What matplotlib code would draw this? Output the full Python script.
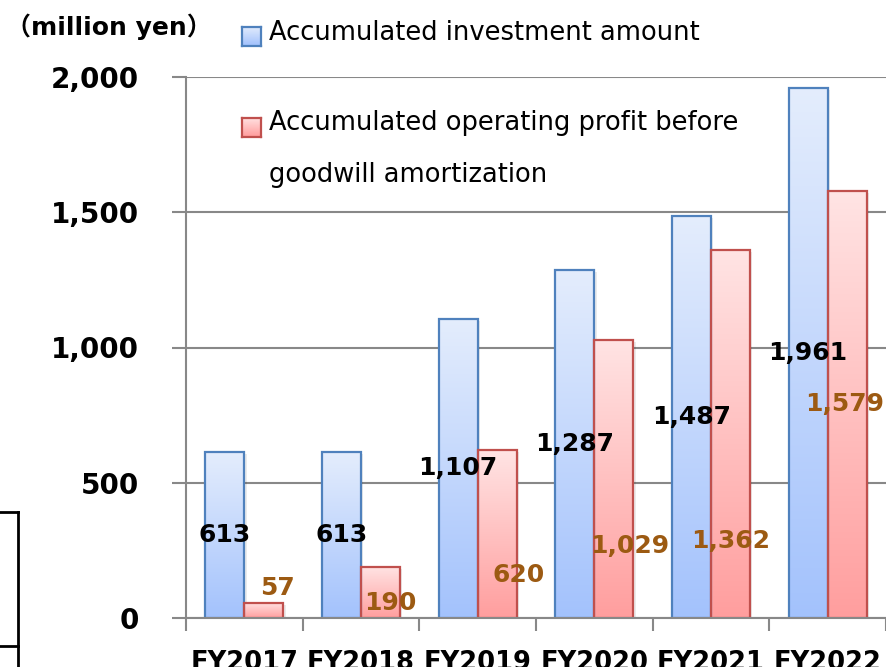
import matplotlib.pyplot as plt
import numpy as np
from matplotlib.colors import LinearSegmentedColormap
from matplotlib.patches import Rectangle
from matplotlib.lines import Line2D

years = ['FY2017', 'FY2018', 'FY2019', 'FY2020', 'FY2021', 'FY2022']
invest = [613, 613, 1107, 1287, 1487, 1961]
profit = [57, 190, 620, 1029, 1362, 1579]
invest_labels = ['613', '613', '1,107', '1,287', '1,487', '1,961']
profit_labels = ['57', '190', '620', '1,029', '1,362', '1,579']

# hand placed label spots for the red series (x offset from bar centre, y in data units)
profit_lab_dx = [0.12, 0.08, 0.18, 0.14, 0.0, -0.02]
profit_lab_y = [111, 55, 159, 266, 285, 791]

W, H = 887, 667
fig = plt.figure(figsize=(W / 100, H / 100), dpi=100)
ax = fig.add_axes([186 / W, 1 - 618 / H, 700 / W, 541 / H])

x = np.arange(len(years)) + 0.5
bw = 0.334

blue_cmap = LinearSegmentedColormap.from_list('b', ['#a3c2fc', '#e4edfd'])
red_cmap = LinearSegmentedColormap.from_list('r', ['#ff9e9e', '#ffe4e4'])
grad = np.linspace(0, 1, 256).reshape(-1, 1)


def gradient_bars(rects, cmap, edge):
    for r in rects:
        x0, w, h = r.get_x(), r.get_width(), r.get_height()
        ax.imshow(grad, cmap=cmap, origin='lower', aspect='auto',
                  extent=[x0, x0 + w, 0, h], zorder=2)
        r.set_facecolor('none')
        r.set_edgecolor(edge)
        r.set_linewidth(1.6)
        r.set_zorder(3)
        # soft shadow
        ax.add_patch(Rectangle((x0 + 0.02, 0), w, h - 8, facecolor='#000000',
                               alpha=0.08, edgecolor='none', zorder=1.5))


b1 = ax.bar(x - bw / 2, invest, bw)
b2 = ax.bar(x + bw / 2, profit, bw)
gradient_bars(b1, blue_cmap, '#4f81bd')
gradient_bars(b2, red_cmap, '#c0504d')

for xi, v, s in zip(x, invest, invest_labels):
    ax.text(xi - bw / 2, v / 2, s, ha='center', va='center', fontsize=18,
            fontweight='bold', color='black', zorder=5)
for xi, dx, yy, s in zip(x, profit_lab_dx, profit_lab_y, profit_labels):
    ax.text(xi + bw / 2 + dx, yy, s, ha='center', va='center', fontsize=18,
            fontweight='bold', color='#9c5a12', zorder=5)

ax.set_xlim(0, 6)
ax.set_ylim(0, 2000)
ax.set_yticks([0, 500, 1000, 1500, 2000])
ax.set_yticklabels(['0', '500', '1,000', '1,500', '2,000'], fontsize=20,
                   fontweight='bold')
ax.set_xticks(np.arange(7))
ax.set_xticklabels([])
ax.set_xticks(x, minor=True)
ax.set_xticklabels(years, minor=True, fontsize=18.5, fontweight='bold')
ax.tick_params(axis='x', which='minor', length=0, pad=23)
ax.tick_params(axis='x', which='major', length=9, width=1.5, color='#888888')
ax.tick_params(axis='y', length=10, width=1.5, color='#888888', pad=24)
ax.yaxis.grid(True, color='#888888', linewidth=1.5, zorder=0)
ax.set_axisbelow(True)
for s in ['top', 'right']:
    ax.spines[s].set_visible(False)
for s in ['left', 'bottom']:
    ax.spines[s].set_color('#888888')
    ax.spines[s].set_linewidth(1.5)
    ax.spines[s].set_zorder(4)

# unit label and legend
fig.text(6 / W, 1 - 27 / H, '（million yen）', fontsize=18, fontweight='bold',
         family=['DejaVu Sans', 'Noto Sans CJK JP'], va='center', ha='left')
# legend swatches are drawn with the same gradients as the bars
for cy, cmap, edge in [(36, blue_cmap, '#4f81bd'), (127, red_cmap, '#c0504d')]:
    sax = fig.add_axes([242 / W, 1 - (cy + 9.5) / H, 19 / W, 19 / H])
    sax.imshow(grad, cmap=cmap, origin='lower', aspect='auto', extent=[0, 1, 0, 1])
    sax.set_xticks([])
    sax.set_yticks([])
    for sp in sax.spines.values():
        sp.set_color(edge)
        sp.set_linewidth(1.6)
fig.text(269 / W, 1 - 33 / H, 'Accumulated investment amount', fontsize=18.5,
         va='center', ha='left')
fig.text(269 / W, 1 - 123 / H, 'Accumulated operating profit before', fontsize=18.5,
         va='center', ha='left')
fig.text(269 / W, 1 - 175 / H, 'goodwill amortization', fontsize=18.5,
         va='center', ha='left')

# stray box edge at the left of the slide
for xs, ys in [([18, 18], [512, 667]), ([0, 18], [512, 512]), ([0, 18], [646, 646])]:
    fig.add_artist(Line2D([v / W for v in xs], [1 - v / H for v in ys],
                          color='black', linewidth=2))

fig.savefig('out.png', dpi=100)
